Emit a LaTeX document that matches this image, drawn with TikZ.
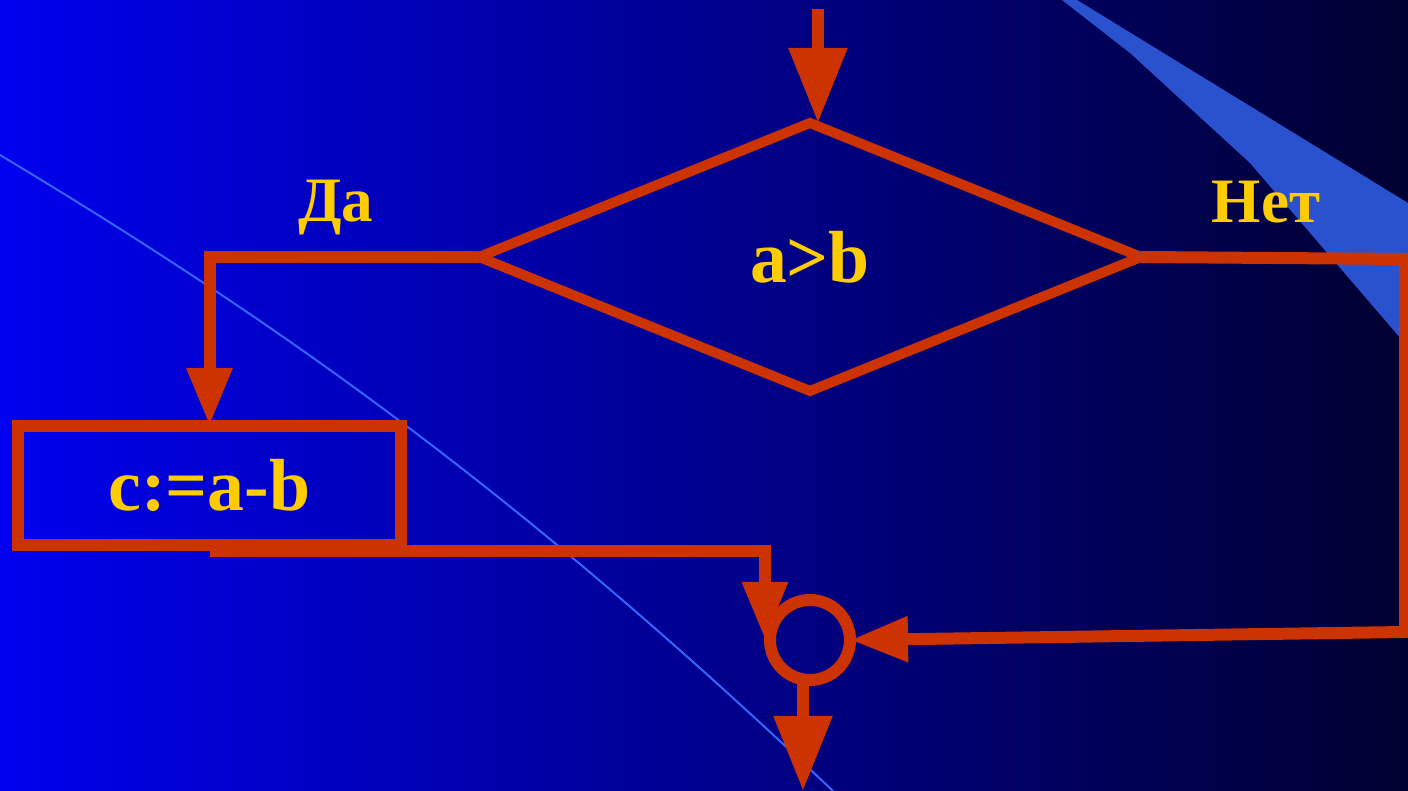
\documentclass[tikz,border=0pt]{standalone}
\usepackage{fontspec}
\setmainfont{Liberation Serif}
\usetikzlibrary{arrows.meta, shapes.geometric, calc, positioning}
\definecolor{FlowRed}{RGB}{204,51,0}
\definecolor{FlowYellow}{RGB}{255,204,0}
\definecolor{BgLeft}{RGB}{0,0,238}
\definecolor{BgRight}{RGB}{0,0,48}
\definecolor{StreakBlue}{RGB}{42,82,206}
\definecolor{ThreadBlue}{RGB}{51,102,255}

\begin{document}
\begin{tikzpicture}[
    FlowLine/.style={draw=FlowRed, line width=.12cm},
    BigArrow/.style={FlowLine, -{Triangle[length=.75cm, width=.56cm]}},
    SmallArrow/.style={FlowLine, -{Triangle[length=.58cm, width=.43cm]}},
    BigText/.style={text=FlowYellow, font=\bfseries\fontsize{21}{25}\selectfont},
    Label/.style={text=FlowYellow, font=\bfseries\fontsize{18}{22}\selectfont},
    DecisionBox/.style={diamond, draw=FlowRed, line width=.1cm, BigText,
                minimum width=6.62cm, minimum height=2.68cm, inner sep=0pt, outer sep=0pt},
    ActionBox/.style={draw=FlowRed, line width=.12cm, BigText,
                minimum width=3.83cm, minimum height=1.19cm, inner sep=0pt, outer sep=0pt},
    JoinCircle/.style={circle, draw=FlowRed, line width=.12cm,
                minimum size=.8cm, inner sep=0pt, outer sep=0pt},
  ]

% background
\fill[left color=BgLeft, right color=BgRight] (0,0) rectangle (14.08,7.91);
\useasboundingbox (0,0) rectangle (14.08,7.91);
\clip (0,0) rectangle (14.08,7.91);
\fill[StreakBlue] (10.62,7.91) -- (10.77,7.91) -- (14.08,5.88) -- (14.08,4.44)
  -- (12.50,6.28) -- (11.30,7.38) -- cycle;
\draw[ThreadBlue, line width=.02cm] (0,6.36) .. controls (3,4.56) and (5.33,2.85) .. (8.33,0);

\node[DecisionBox] (cond) at (8.10,5.34) {a>b};
\node[ActionBox] (diff) at (2.095,3.055) {c:=a-b};
\node[JoinCircle] (join) at (8.10,1.51) {};
\node[Label, anchor=base] (yes) at (3.36,5.69) {Да};
\node[Label, anchor=base] (no) at (12.66,5.68) {Нет};

\coordinate (entry) at (8.18,7.82);
\coordinate (exit) at (8.03,0);
\coordinate (noTop) at (14.05,5.32);
\coordinate (noBot) at (14.05,1.59);

\draw[BigArrow] (entry) -- (entry |- cond.north);
\draw[SmallArrow] (cond.west) -| (diff.north);
\draw[SmallArrow] ([yshift=-.06cm]diff.south) -| ([xshift=-.05cm]join.west);
\draw[SmallArrow] (cond.east) -- (noTop) -- (noBot) -- (join.east);
\draw[BigArrow] (join.south -| exit) -- (exit);
\end{tikzpicture}
\end{document}
